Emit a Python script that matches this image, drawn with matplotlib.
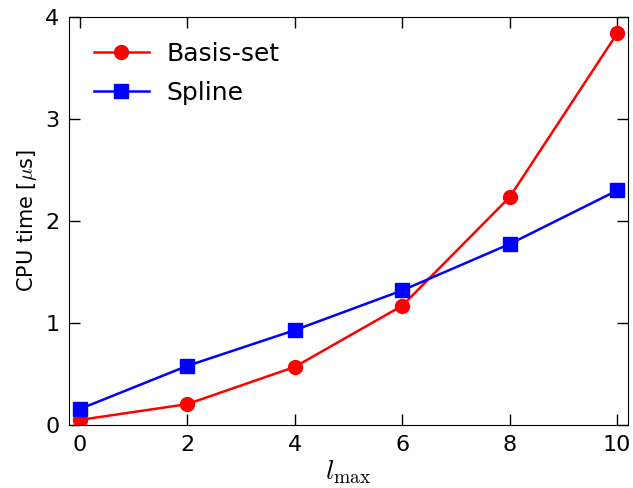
import matplotlib
matplotlib.use("Agg")
import matplotlib.pyplot as plt

lmax = [0, 2, 4, 6, 8, 10]
basis_set = [0.05, 0.205, 0.57, 1.17, 2.235, 3.84]
spline = [0.157, 0.58, 0.93, 1.32, 1.775, 2.30]
xticks = [0, 2, 4, 6, 8, 10]
yticks = [0, 1, 2, 3, 4]

plt.rcParams['font.size'] = 16
plt.rcParams['mathtext.fontset'] = 'cm'
fig = plt.figure(figsize=(6.33, 4.88), dpi=100)
ax = fig.add_axes([0.109, 0.129, 0.883, 0.836])
ax.plot(lmax, basis_set, '-o', color='red', lw=1.8, ms=10, mec='red', label='Basis-set')
ax.plot(lmax, spline, '-s', color='blue', lw=1.8, ms=10, mec='blue', label='Spline')
ax.set_xlim(-0.2, 10.2)
ax.set_ylim(0, 4)
ax.set_xticks(xticks)
ax.set_yticks(yticks)
ax.tick_params(direction='in', top=True, right=True, length=8, width=1, labelsize=16, pad=7)
ax.set_xlabel(r'$l_{\max}$', fontsize=20, labelpad=2)
ax.set_ylabel(r'CPU time [$\mu$s]', fontsize=15)
ax.legend(loc='upper left', frameon=False, fontsize=18, numpoints=1, handlelength=2.2,
          handletextpad=0.7, labelspacing=0.6, borderaxespad=0.6)
fig.savefig('out.png', dpi=100)
